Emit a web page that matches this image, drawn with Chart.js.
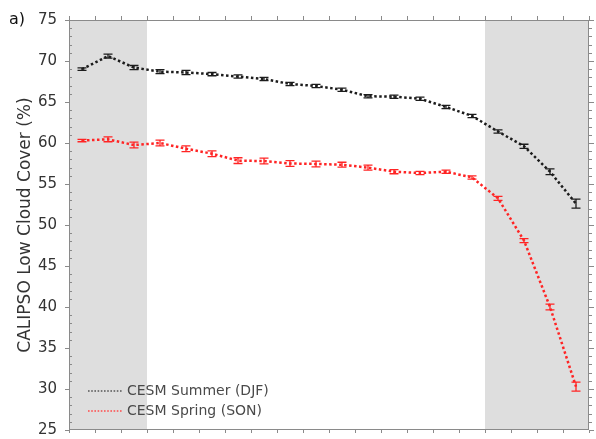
<!DOCTYPE html>
<html><head><meta charset="utf-8">
<script src="https://cdn.jsdelivr.net/npm/chart.js@4/dist/chart.umd.min.js"></script>
<style>html,body{margin:0;padding:0;background:#fff}</style>
</head><body>
<canvas id="c" width="596" height="439"></canvas>
<script>
// Latitude bins (1..20) along the horizontal axis, no tick labels shown
const bins = [1, 2, 3, 4, 5, 6, 7, 8, 9, 10, 11, 12, 13, 14, 15, 16, 17, 18, 19, 20];

const summerLabel = 'CESM Summer (DJF)';
const summerCover = [69.0, 70.6, 69.2, 68.7, 68.6, 68.4, 68.1, 67.8, 67.2, 66.95, 66.5, 65.7, 65.65, 65.4, 64.4, 63.3, 61.4, 59.6, 56.5, 52.6];
const summerErr   = [0.15, 0.25, 0.25, 0.25, 0.25, 0.2, 0.2, 0.2, 0.2, 0.2, 0.2, 0.2, 0.2, 0.2, 0.2, 0.2, 0.2, 0.25, 0.35, 0.55];

const springLabel = 'CESM Spring (SON)';
const springCover = [60.3, 60.45, 59.75, 60.0, 59.3, 58.7, 57.85, 57.8, 57.5, 57.45, 57.35, 57.0, 56.5, 56.35, 56.5, 55.8, 53.25, 48.1, 40.0, 30.3];
const springErr   = [0.15, 0.3, 0.35, 0.35, 0.35, 0.35, 0.35, 0.35, 0.35, 0.35, 0.3, 0.3, 0.25, 0.2, 0.2, 0.2, 0.25, 0.25, 0.35, 0.55];

// Shaded bin ranges (in bin-edge units)
const shadedBins = [[0, 3], [16, 20]];

const yMin = 25, yMax = 75, yStep = 5;
const panelTag = 'a)';
const yTitle = 'CALIPSO Low Cloud Cover (%)';

const BLACK = '#1c1c1c';
const RED = '#ff2424';

const toPoints = (vals) => vals.map((v, i) => ({ x: bins[i] - 0.5, y: v }));

const series = [
  { label: summerLabel, values: summerCover, err: summerErr, color: BLACK, key: '#555' },
  { label: springLabel, values: springCover, err: springErr, color: RED, key: '#ff4a4a' }
];

const framePlugin = {
  id: 'frame',
  beforeDatasetsDraw(chart) {
    const { ctx, chartArea: a, scales: { x, y } } = chart;
    ctx.save();
    ctx.fillStyle = '#dedede';
    shadedBins.forEach(([s, e]) => {
      const x0 = x.getPixelForValue(s), x1 = x.getPixelForValue(e);
      ctx.fillRect(x0, a.top, x1 - x0, a.bottom - a.top);
    });
    ctx.strokeStyle = '#8a8a8a';
    ctx.lineWidth = 1;
    ctx.strokeRect(a.left + 0.5, a.top + 0.5, a.right - a.left - 1, a.bottom - a.top - 1);
    ctx.beginPath();
    // bin-edge ticks on top and bottom, pointing outward
    for (let b = x.min; b <= x.max; b++) {
      const px = Math.round(x.getPixelForValue(b)) + 0.5;
      ctx.moveTo(px, a.top); ctx.lineTo(px, a.top - 4);
      ctx.moveTo(px, a.bottom); ctx.lineTo(px, a.bottom + 3);
    }
    // major and minor ticks on left and right
    for (let v = yMin; v <= yMax; v++) {
      const py = Math.round(y.getPixelForValue(v)) + 0.5;
      if (v % yStep === 0) {
        ctx.moveTo(a.left, py); ctx.lineTo(a.left - 4, py);
        ctx.moveTo(a.right, py); ctx.lineTo(a.right + 5, py);
      } else {
        ctx.moveTo(a.left, py); ctx.lineTo(a.left + 3, py);
        ctx.moveTo(a.right, py); ctx.lineTo(a.right + 3, py);
      }
    }
    ctx.stroke();
    ctx.restore();
  },
  afterDatasetsDraw(chart) {
    const { ctx, scales: { x, y } } = chart;
    ctx.save();
    // error bars with caps
    series.forEach((s) => {
      ctx.strokeStyle = s.color;
      ctx.lineWidth = 1.3;
      s.values.forEach((v, i) => {
        const px = x.getPixelForValue(bins[i] - 0.5);
        const yt = y.getPixelForValue(v + s.err[i]);
        const yb = y.getPixelForValue(v - s.err[i]);
        ctx.beginPath();
        ctx.moveTo(px, yt); ctx.lineTo(px, yb);
        ctx.moveTo(px - 4.5, yt); ctx.lineTo(px + 4.5, yt);
        ctx.moveTo(px - 4.5, yb); ctx.lineTo(px + 4.5, yb);
        ctx.stroke();
      });
    });
    // legend, lower left inside the plot
    ctx.font = '14px "DejaVu Sans"';
    ctx.textBaseline = 'middle';
    series.forEach((s, i) => {
      const ly = 391 + i * 20;
      ctx.strokeStyle = s.key;
      ctx.lineWidth = 1.6;
      ctx.setLineDash([1.6, 1.6]);
      ctx.beginPath();
      ctx.moveTo(88, ly); ctx.lineTo(123, ly);
      ctx.stroke();
      ctx.setLineDash([]);
      ctx.fillStyle = '#4a4a4a';
      ctx.fillText(s.label, 127, ly);
    });
    // panel tag
    ctx.font = '16px "DejaVu Sans"';
    ctx.fillStyle = '#111';
    ctx.fillText(panelTag, 9, 20);
    ctx.restore();
  }
};

new Chart(document.getElementById('c'), {
  type: 'line',
  data: {
    datasets: series.map((s) => ({
      label: s.label,
      data: toPoints(s.values),
      borderColor: s.color,
      backgroundColor: s.color,
      borderWidth: 2.5,
      borderDash: [2.5, 2.5],
      borderCapStyle: 'butt',
      pointRadius: 0,
      tension: 0,
      fill: false
    }))
  },
  options: {
    responsive: false,
    animation: false,
    devicePixelRatio: 1,
    layout: { padding: { left: 0, right: 7, top: 20, bottom: 9 } },
    plugins: { legend: { display: false }, tooltip: { enabled: false } },
    scales: {
      x: {
        type: 'linear', min: 0, max: bins.length,
        display: false
      },
      y: {
        min: yMin, max: yMax,
        ticks: { stepSize: yStep, padding: 12, color: '#333', font: { family: 'DejaVu Sans', size: 15 } },
        grid: { display: false, drawTicks: false },
        border: { display: false },
        title: { display: true, text: yTitle, color: '#333', padding: { top: 15, bottom: 0 }, font: { family: 'DejaVu Sans', size: 17 } },
        afterFit(s) { s.width = 69; s.paddingTop = 0; s.paddingBottom = 0; }
      }
    }
  },
  plugins: [framePlugin]
});
</script>
</body></html>
